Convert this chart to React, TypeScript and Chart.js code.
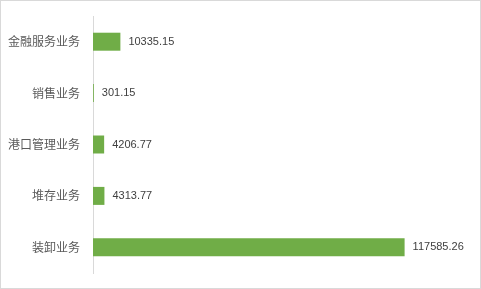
import React, { useEffect, useRef } from "react";
import { Chart, registerables } from "chart.js";

Chart.register(...registerables);

const categories = ["金融服务业务", "销售业务", "港口管理业务", "堆存业务", "装卸业务"];
const values = [10335.15, 301.15, 4206.77, 4313.77, 117585.26];
const valueLabels = ["10335.15", "301.15", "4206.77", "4313.77", "117585.26"];

const valueLabelPlugin = {
  id: "valueLabels",
  afterDatasetsDraw(chart: any) {
    const ctx = chart.ctx;
    const meta = chart.getDatasetMeta(0);
    ctx.save();
    ctx.font = "11px 'Liberation Sans', sans-serif";
    ctx.fillStyle = "#404040";
    ctx.textAlign = "left";
    ctx.textBaseline = "middle";
    meta.data.forEach((bar: any, i: number) => {
      ctx.fillText(valueLabels[i], bar.x + 8, bar.y);
    });
    ctx.restore();
  },
};

export default function App() {
  const ref = useRef<HTMLCanvasElement>(null);
  useEffect(() => {
    document.body.style.margin = "0";
    const chart = new Chart(ref.current!, {
      type: "bar",
      data: {
        labels: categories,
        datasets: [
          {
            data: values,
            backgroundColor: "#70AD47",
            borderWidth: 0,
            barPercentage: 0.35,
            categoryPercentage: 1,
          },
        ],
      },
      options: {
        indexAxis: "y",
        animation: false,
        responsive: false,
        maintainAspectRatio: false,
        layout: { padding: { left: 0, top: 15, right: 16, bottom: 15 } },
        plugins: { legend: { display: false }, tooltip: { enabled: false } },
        scales: {
          x: { display: false, min: 0, max: 140000 },
          y: {
            grid: { display: false, drawTicks: false },
            border: { display: true, color: "#d9d9d9", width: 1 },
            ticks: {
              color: "#595959",
              font: { size: 12, family: "'Noto Sans CJK SC', sans-serif" },
              padding: 13,
            },
            afterFit(scale: any) {
              scale.width = 92;
              scale.paddingTop = 0;
              scale.paddingBottom = 0;
            },
          },
        },
      },
      plugins: [valueLabelPlugin],
    });
    return () => chart.destroy();
  }, []);
  return (
    <div
      style={{
        position: "absolute",
        left: 0,
        top: 0,
        width: 481,
        height: 289,
        border: "1px solid #d9d9d9",
        boxSizing: "border-box",
        background: "#fff",
      }}
    >
      <canvas ref={ref} width={479} height={287} style={{ display: "block" }} />
    </div>
  );
}
